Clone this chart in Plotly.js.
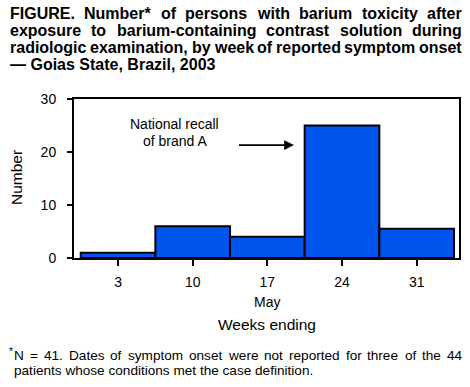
<!DOCTYPE html>
<html>
<head>
<meta charset="utf-8">
<script src="https://cdn.plot.ly/plotly-3.0.1.min.js"></script>
<style>html,body{margin:0;padding:0;background:#fff;}#chart{width:470px;height:387px;}</style>
</head>
<body>
<div id="chart"></div>
<script>
const weeks = [3, 10, 17, 24, 31];
const counts = [1, 6, 4, 25, 5.5];
const tickLabels = ["3", "10", "17", "24", "31"];
const titleLines = [
  "FIGURE. Number* of persons with barium toxicity after",
  "exposure to barium-containing contrast solution during",
  "radiologic examination, by week of reported symptom onset",
  "— Goias State, Brazil, 2003"
];
const footLines = [
  "N = 41. Dates of symptom onset were not reported for three of the 44",
  "patients whose conditions met the case definition."
];
const recallText = ["National recall", "of brand A"];

const FONT = "Liberation Sans, Arial, Helvetica, sans-serif";
const W = 470, H = 387;
const M = {l: 74, r: 11, t: 99, b: 129};
const PW = W - M.l - M.r, PH = H - M.t - M.b;
const px = x => (x - M.l) / PW;
const py = y => (H - M.b - y) / PH;

const ctx = document.createElement("canvas").getContext("2d");
function measure(t, size, bold) {
  ctx.font = (bold ? "bold " : "") + size + "px 'Liberation Sans', Arial, sans-serif";
  return ctx.measureText(t).width;
}

const annotations = [];
// words justified between x0 and x1
function justifyLine(line, x0, x1, yc, size, bold) {
  const words = line.split(" ");
  const widths = words.map(w => measure(w, size, bold));
  const total = widths.reduce((a, b) => a + b, 0);
  const gap = (x1 - x0 - total) / (words.length - 1);
  let x = x0;
  words.forEach((w, i) => {
    annotations.push({xref: "paper", yref: "paper", x: px(x), y: py(yc), xanchor: "left", yanchor: "middle",
      showarrow: false, borderpad: 0, text: w, font: {size: size, family: FONT, weight: bold ? "bold" : "normal"}});
    x += widths[i] + gap;
  });
}
function plainLine(line, x0, yc, size, bold) {
  annotations.push({xref: "paper", yref: "paper", x: px(x0), y: py(yc), xanchor: "left", yanchor: "middle",
    showarrow: false, borderpad: 0, text: line, font: {size: size, family: FONT, weight: bold ? "bold" : "normal"}});
}

const titleY = [14, 30.5, 47, 64];
titleLines.forEach((l, i) => {
  if (i < 3) justifyLine(l, 9, 461, titleY[i], 16, true);
  else plainLine(l, 9, titleY[i], 16, true);
});
justifyLine(footLines[0], 13, 461, 355.5, 13.6, false);
plainLine(footLines[1], 13, 370.5, 13.6, false);
annotations.push({xref: "paper", yref: "paper", x: px(8), y: py(351), xanchor: "left", yanchor: "middle",
  showarrow: false, borderpad: 0, text: "*", font: {size: 10, family: FONT}});

annotations.push(
  {xref: "x", yref: "y", x: 8.3, y: 25.3, xanchor: "center", yanchor: "middle", showarrow: false,
   text: recallText[0], font: {size: 14, family: FONT}},
  {xref: "x", yref: "y", x: 8.3, y: 22.1, xanchor: "center", yanchor: "middle", showarrow: false,
   text: recallText[1], font: {size: 14, family: FONT}},
  {xref: "x", yref: "y", axref: "x", ayref: "y", x: 19.5, y: 21.3, ax: 14.2, ay: 21.3,
   text: "", showarrow: true, arrowhead: 2, arrowsize: 1.1, arrowwidth: 1.8, arrowcolor: "#000", standoff: 0},
  {xref: "paper", yref: "paper", x: 0.5, y: py(301.5), xanchor: "center", yanchor: "middle",
   showarrow: false, text: "May", font: {size: 14, family: FONT}},
  {xref: "paper", yref: "paper", x: 0.5, y: py(324), xanchor: "center", yanchor: "middle",
   showarrow: false, text: "Weeks ending", font: {size: 15.5, family: FONT}},
  {xref: "paper", yref: "paper", x: px(16), y: py(178), xanchor: "center", yanchor: "middle", textangle: -90,
   showarrow: false, text: "Number", font: {size: 15.5, family: FONT}}
);

const trace = {
  type: "bar",
  x: weeks,
  y: counts,
  width: 7,
  marker: {color: "#0055ee", line: {color: "#000", width: 2}},
  hoverinfo: "x+y"
};

const layout = {
  width: W, height: H,
  margin: M,
  paper_bgcolor: "#fff", plot_bgcolor: "#fff",
  showlegend: false,
  font: {family: FONT, color: "#000", size: 14},
  xaxis: {
    range: [-1.13, 34.97],
    tickvals: weeks, ticktext: tickLabels,
    ticks: "outside", ticklen: 6, tickwidth: 2, tickcolor: "#000",
    ticklabelstandoff: 4,
    showline: true, mirror: true, linewidth: 2, linecolor: "#000",
    showgrid: false, zeroline: false,
    tickfont: {size: 14, family: FONT}
  },
  yaxis: {
    range: [0, 30],
    tickvals: [0, 10, 20, 30],
    ticks: "outside", ticklen: 5, tickwidth: 2, tickcolor: "#000",
    ticklabelstandoff: 8,
    showline: true, mirror: true, linewidth: 2, linecolor: "#000",
    showgrid: false, zeroline: false,
    tickfont: {size: 14, family: FONT}
  },
  annotations: annotations
};

Plotly.newPlot("chart", [trace], layout, {displayModeBar: false, staticPlot: true});
</script>
</body>
</html>
